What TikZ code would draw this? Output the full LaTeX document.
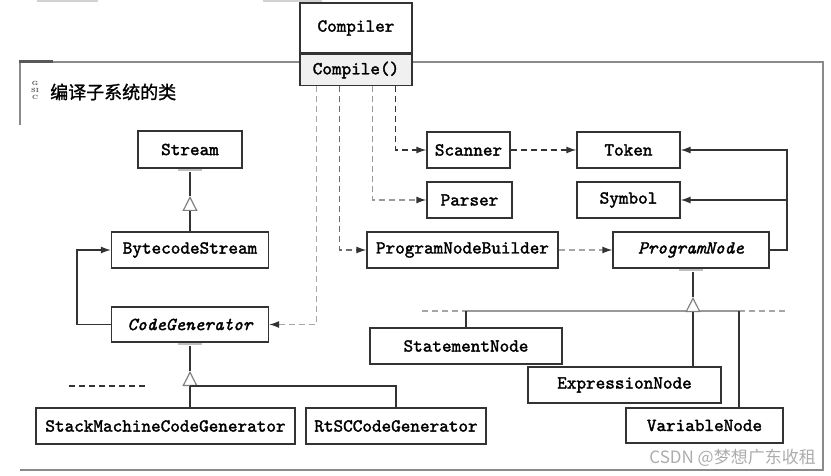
\documentclass[tikz,border=0pt]{standalone}
\usepackage{fontspec}
\newfontfamily\cjk{Noto Sans CJK SC}
\newfontfamily\cjkb{Noto Sans CJK SC}[FakeBold=1.2]
\newfontfamily\umlfam{lmmono10-regular.otf}[FakeBold=1.8, ItalicFont=lmmono10-italic.otf]
\usetikzlibrary{arrows.meta,calc}
\definecolor{ink}{HTML}{333333}
\definecolor{frame}{HTML}{8A8A8A}
\newcommand{\umlfont}{\umlfam\fontsize{18.3}{18}\selectfont}
\begin{document}
\begin{tikzpicture}[x=1pt,y=-1pt,
  box/.style={draw=ink, line width=1.3pt, fill=white, inner sep=0pt,
    font=\umlfont, text=black},
  conn/.style={draw=ink, line width=1.3pt},
  dsh/.style={line width=1.3pt, dash pattern=on 6pt off 4pt},
  tip/.style={-{Latex[length=10pt,width=7pt,color=ink]}},
  gen/.style={-{Triangle[length=15pt,width=15pt,fill=white,color=gray,line width=1.2pt]}},
  tabbar/.style={draw=gray!50, line width=2.5pt},
]
\useasboundingbox (0,0) rectangle (831,476);
% scraps at top edge
\draw[gray!35, line width=2pt] (37,1) -- (98,1);
\draw[gray!35, line width=2pt] (263,1) -- (322,1);
% package frame
\draw[frame, line width=1.5pt] (20,125) -- (20,62) -- (823,62) -- (823,470) -- (20,470);
\draw[gray!70!black, line width=3pt] (19,62) -- (53,62);
\node[font=\bfseries\fontsize{6}{6}\selectfont, gray!60!black, align=center, inner sep=0pt] (glyphs) at (35,90) {G\\[1pt]SI\\[1pt]C};
\node[font=\cjkb\fontsize{18}{18}\selectfont, anchor=west, inner sep=0pt] (pkg) at (50,92) {编译子系统的类};

% Compiler
\node[box, line width=1.5pt, minimum width=112pt, minimum height=50pt] (compiler) at (356,28) {Compiler};
\node[box, line width=1.5pt, fill=gray!12, minimum width=112pt, minimum height=31pt, anchor=north] (compile) at (compiler.south) {Compile()};

% left classes
\node[box, minimum width=104pt, minimum height=37pt] (stream) at (190,149.5) {Stream};
\node[box, minimum width=157pt, minimum height=36pt] (bcs) at (190,250) {BytecodeStream};
\node[box, minimum width=157pt, minimum height=35pt] (cg) at (190,324.5) {\itshape CodeGenerator};
\node[box, minimum width=259pt, minimum height=36pt] (smcg) at (165.5,426) {StackMachineCodeGenerator};
\node[box, minimum width=180pt, minimum height=36pt] (rtsc) at (396,426) {RtSCCodeGenerator};

% middle/right classes
\node[box, minimum width=83pt, minimum height=36pt] (scanner) at (468.5,150) {Scanner};
\node[box, minimum width=85pt, minimum height=36pt] (parser) at (469.5,200) {Parser};
\node[box, minimum width=103pt, minimum height=36pt] (token) at (628.5,150) {Token};
\node[box, minimum width=103pt, minimum height=36pt] (symbol) at (628.5,200) {Symbol};
\node[box, minimum width=191pt, minimum height=36pt] (pnb) at (462.5,250) {ProgramNodeBuilder};
\node[box, minimum width=156pt, minimum height=36pt] (pn) at (691,250) {\itshape ProgramNode};
\node[box, minimum width=192pt, minimum height=36pt] (stmt) at (466,346) {StatementNode};
\node[box, minimum width=193pt, minimum height=36pt] (expr) at (624.5,385) {ExpressionNode};
\node[box, minimum width=157pt, minimum height=35pt] (var) at (704.5,425.5) {VariableNode};

% tabs under abstract classes
\draw[tabbar] ($(stream.south)+(-12,1.5)$) -- ++(24,0);
\draw[tabbar] ($(cg.south)+(-12,1.5)$) -- ++(24,0);
\draw[tabbar] ($(pn.south)+(-12,1.5)$) -- ++(24,0);

% Stream <- BytecodeStream
\coordinate (t1) at (190,196);
\draw[conn, gen] (bcs.north) -- (t1);
\draw[conn] (t1) -- ($(stream.south)+(0,3)$);

% CodeGenerator -> BytecodeStream
\draw[conn, tip] (cg.west) -- ++(-34,0) |- (bcs.west);

% CodeGenerator hierarchy
\coordinate (t2) at (190,371);
\coordinate (j2) at (190,386);
\coordinate (d2a) at (145,386);
\coordinate (d2b) at (67,386);
\draw[conn, gen] (j2) -- (t2);
\draw[conn] (t2) -- ($(cg.south)+(0,3)$);
\draw[conn] (j2 |- smcg.north) -- (j2);
\draw[conn] (j2) -- (j2 -| rtsc.north) -- (rtsc.north);
\draw[conn, dsh] (d2a) -- (d2b);

% Compiler dependencies
\draw[dsh, draw=gray!70, tip] ($(compile.south west)+(17,0)$) |- (cg.east);
\draw[dsh, draw=gray!85!black, tip] ($(compile.south west)+(40,0)$) |- (pnb.west);
\draw[dsh, draw=gray!80, tip] ($(compile.south west)+(73,0)$) |- (parser.west);
\draw[dsh, draw=ink, tip] ($(compile.south west)+(96,0)$) |- (scanner.west);

\draw[dsh, draw=ink, tip] (scanner.east) -- (token.west);
\draw[dsh, draw=gray!70, tip] (pnb.east) -- (pn.west);

% ProgramNode -> Token, Symbol
\coordinate (pr) at (787,250);
\draw[conn, tip] (pn.east) -- (pr) |- (token.east);
\draw[conn, tip] (pr |- symbol.east) -- (symbol.east);

% ProgramNode hierarchy
\coordinate (t3) at (693,297);
\coordinate (j3) at (693,312);
\coordinate (h3a) at (422,311);
\coordinate (h3b) at (787,311);
\draw[draw=gray!80, line width=1.3pt] (stmt.north |- h3a) -- (739,311);
\draw[draw=gray!70, dsh] (h3a) -- (stmt.north |- h3a);
\draw[draw=gray!70, dsh] (739,311) -- (h3b);
\draw[conn, gen] (j3) -- (t3);
\draw[conn] (t3) -- ($(pn.south)+(2,3)$);
\draw[conn] (stmt.north) -- (stmt.north |- h3a);
\draw[conn] (expr.north -| j3) -- (j3);
\draw[conn] (var.north -| 739,0) -- (739,311);

% watermark
\node[font=\cjk\fontsize{17}{17}\selectfont, text=gray!65, anchor=east, inner sep=0pt] (wm) at (816,458) {CSDN @梦想广东收租};
\end{tikzpicture}
\end{document}
